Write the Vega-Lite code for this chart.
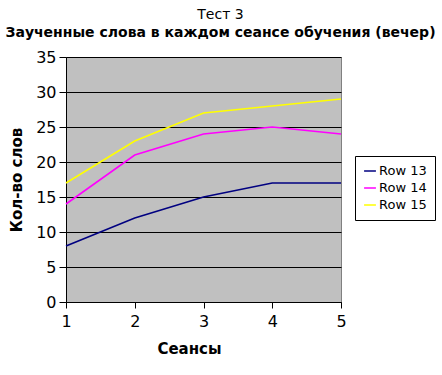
{
  "$schema": "https://vega.github.io/schema/vega-lite/v6.json",
  "width": 275,
  "height": 245,
  "autosize": {"type": "none"},
  "padding": {"left": 66, "top": 57, "right": 101, "bottom": 73},
  "background": "white",
  "title": {
    "text": "Тест 3",
    "subtitle": "Заученные слова в каждом сеансе обучения (вечер)",
    "font": "DejaVu Sans",
    "fontSize": 14,
    "fontWeight": "normal",
    "color": "black",
    "subtitleFont": "DejaVu Sans",
    "subtitleFontSize": 14,
    "subtitleFontWeight": "bold",
    "subtitleColor": "black",
    "subtitlePadding": 4,
    "anchor": "middle",
    "dx": 17,
    "offset": 9
  },
  "config": {
    "font": "DejaVu Sans",
    "view": {"fill": "#C0C0C0", "stroke": "#808080", "strokeWidth": 1}
  },
  "data": {
    "values": [
      {"s": 1, "row": "Row 13", "v": 8},
      {"s": 2, "row": "Row 13", "v": 12},
      {"s": 3, "row": "Row 13", "v": 15},
      {"s": 4, "row": "Row 13", "v": 17},
      {"s": 5, "row": "Row 13", "v": 17},
      {"s": 1, "row": "Row 14", "v": 14},
      {"s": 2, "row": "Row 14", "v": 21},
      {"s": 3, "row": "Row 14", "v": 24},
      {"s": 4, "row": "Row 14", "v": 25},
      {"s": 5, "row": "Row 14", "v": 24},
      {"s": 1, "row": "Row 15", "v": 17},
      {"s": 2, "row": "Row 15", "v": 23},
      {"s": 3, "row": "Row 15", "v": 27},
      {"s": 4, "row": "Row 15", "v": 28},
      {"s": 5, "row": "Row 15", "v": 29}
    ]
  },
  "mark": {"type": "line", "strokeWidth": 1.6},
  "encoding": {
    "x": {
      "field": "s", "type": "quantitative",
      "scale": {"domain": [1, 5], "nice": false, "zero": false},
      "axis": {
        "title": "Сеансы", "values": [1, 2, 3, 4, 5], "format": "d",
        "grid": false, "domainColor": "black", "tickColor": "black", "tickSize": 6,
        "labelFlush": false,
        "labelFontSize": 16, "labelColor": "black", "labelPadding": 5,
        "titleFontSize": 15, "titleFontWeight": "bold", "titleColor": "black",
        "titlePadding": 12, "titleX": 123
      }
    },
    "y": {
      "field": "v", "type": "quantitative",
      "scale": {"domain": [0, 35], "nice": false},
      "axis": {
        "title": "Кол-во слов", "values": [0, 5, 10, 15, 20, 25, 30, 35],
        "grid": true, "gridColor": "black", "gridOpacity": 1, "gridWidth": 1,
        "domainColor": "black", "tickColor": "black", "tickSize": 7,
        "labelFontSize": 16, "labelColor": "black", "labelPadding": 3,
        "titleFontSize": 15, "titleFontWeight": "bold", "titleColor": "black",
        "titlePadding": 11
      }
    },
    "color": {
      "field": "row", "type": "nominal",
      "scale": {"domain": ["Row 13", "Row 14", "Row 15"], "range": ["#000080", "#FF00FF", "#FFFF00"]},
      "legend": {
        "title": null, "orient": "none", "legendX": 289, "legendY": 99,
        "strokeColor": "black", "fillColor": "white", "padding": 8,
        "symbolType": "stroke", "symbolSize": 140, "symbolStrokeWidth": 1.5,
        "labelFontSize": 13, "labelColor": "black", "rowPadding": 3, "labelOffset": 2,
        "labelLimit": 200
      }
    }
  }
}
